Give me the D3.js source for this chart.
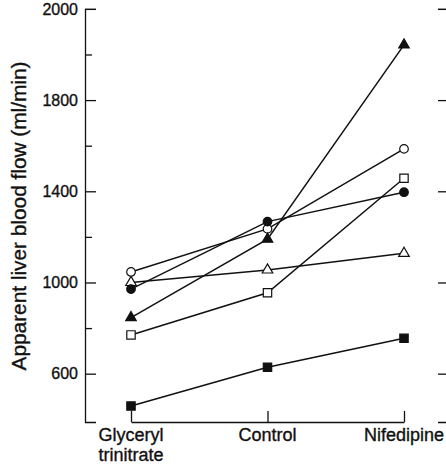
<!DOCTYPE html>
<html>
<head>
<meta charset="utf-8">
<script src="https://cdn.jsdelivr.net/npm/d3@7"></script>
<style>
  body { margin: 0; background: #fff; }
  svg { display: block; font-family: "Liberation Sans", Arial, sans-serif; }
  svg text { fill: #111; stroke: #111; stroke-width: 0.35; }
  .axis path, .axis line { stroke: #111; stroke-width: 1.3; }
</style>
</head>
<body>
<div id="chart"></div>
<script>
// Categories along the x axis (second line of a label after "\n")
var categories = ['Glyceryl\ntrinitrate', 'Control', 'Nifedipine'];

// One series per subject, values in ml/min: [GTN, Control, Nifedipine]
var openCircle     = [1046, 1235, 1586];
var openTriangle   = [1000, 1055, 1128];
var filledCircle   = [971, 1267, 1396];
var filledTriangle = [846, 1190, 2042];
var openSquare     = [770, 955, 1457];
var filledSquare   = [458, 628, 755];

// Y ticks (the printed top label reads 2000 in the original figure)
var majorTicks = [600, 1000, 1400, 1800, 2200];
var majorLabels = ['600', '1000', '1400', '1800', '2000'];
var minorTicks = [800, 1200, 1600, 2000];

var series = [
  {values: openCircle, shape: d3.symbolCircle, filled: false},
  {values: openTriangle, shape: d3.symbolTriangle, filled: false},
  {values: filledCircle, shape: d3.symbolCircle, filled: true},
  {values: filledTriangle, shape: d3.symbolTriangle, filled: true},
  {values: openSquare, shape: d3.symbolSquare, filled: false},
  {values: filledSquare, shape: d3.symbolSquare, filled: true}
];

var W = 446, H = 466;
var svg = d3.select('#chart').append('svg').attr('width', W).attr('height', H);

var x = d3.scalePoint().domain(categories).range([131, 404]);
var y = d3.scaleLinear().domain([388, 2200]).range([422, 8.9]);

// left axis: inward ticks, labels drawn separately
svg.append('g').attr('class', 'axis')
  .attr('transform', 'translate(85,0)')
  .call(d3.axisRight(y).tickValues(majorTicks).tickSize(11).tickSizeOuter(11).tickFormat(''));
svg.append('g').attr('class', 'axis')
  .attr('transform', 'translate(85,0)')
  .call(d3.axisRight(y).tickValues(minorTicks).tickSize(7).tickSizeOuter(0).tickFormat(''))
  .select('.domain').remove();

svg.append('g').selectAll('text').data(majorTicks).join('text')
  .attr('x', 78).attr('y', function(d) { return y(d); })
  .attr('dy', '0.36em').attr('text-anchor', 'end')
  .attr('font-size', 16)
  .text(function(d, i) { return majorLabels[i]; });

// right frame axis (mostly off the edge), ticks only
svg.append('g').attr('class', 'axis')
  .attr('transform', 'translate(449,0)')
  .call(d3.axisLeft(y).tickValues(majorTicks).tickSize(11).tickSizeOuter(11).tickFormat(''));

// x axis spans first to last category with upward ticks
svg.append('g').attr('class', 'axis')
  .attr('transform', 'translate(0,' + y.range()[0] + ')')
  .call(d3.axisBottom(x).tickSize(-11).tickSizeOuter(0).tickFormat(''));

svg.append('g').selectAll('text').data(categories).join('text')
  .attr('x', function(d) { return x(d); })
  .attr('y', 441).attr('text-anchor', 'middle')
  .attr('font-size', 18)
  .each(function(d) {
    var t = d3.select(this);
    d.split('\n').forEach(function(line, i) {
      t.append('tspan').attr('x', x(d)).attr('dy', i ? 19.5 : 0).text(line);
    });
  });

// y title
svg.append('text')
  .attr('transform', 'translate(26,216) rotate(-90)')
  .attr('text-anchor', 'middle')
  .attr('font-size', 20)
  .attr('textLength', 309).attr('lengthAdjust', 'spacingAndGlyphs')
  .text('Apparent liver blood flow (ml/min)');

var line = d3.line()
  .x(function(d, i) { return x(categories[i]); })
  .y(function(d) { return y(d); });

svg.append('g').selectAll('path').data(series).join('path')
  .attr('d', function(s) { return line(s.values); })
  .attr('fill', 'none').attr('stroke', '#111').attr('stroke-width', 1.5);

var sizes = new Map([[d3.symbolCircle, 58], [d3.symbolTriangle, 48], [d3.symbolSquare, 70]]);

series.forEach(function(s) {
  svg.append('g').selectAll('path').data(s.values).join('path')
    .attr('transform', function(d, i) { return 'translate(' + x(categories[i]) + ',' + y(d) + ')'; })
    .attr('d', d3.symbol().type(s.shape).size(sizes.get(s.shape)))
    .attr('fill', s.filled ? '#111' : '#fff')
    .attr('stroke', '#111').attr('stroke-width', 1.2);
});
</script>
</body>
</html>
